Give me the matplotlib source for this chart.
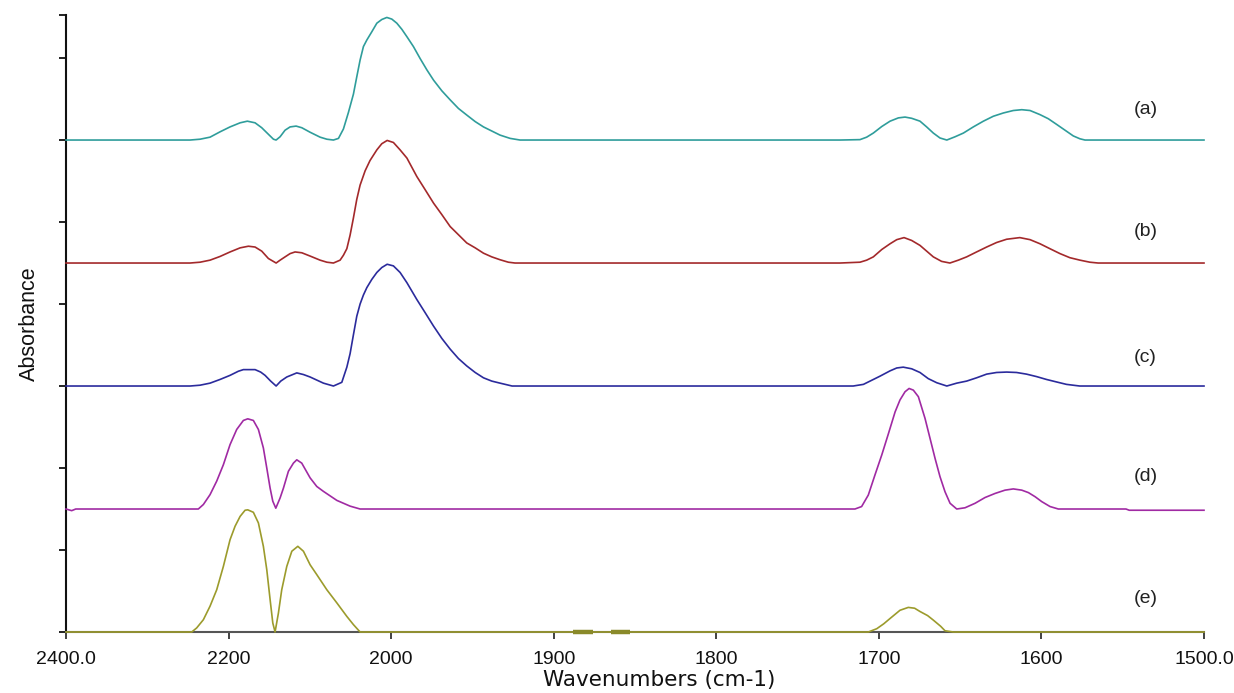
import numpy as np
import matplotlib
matplotlib.use("Agg")
import matplotlib.pyplot as plt

plt.rcParams['font.family'] = ['Liberation Sans', 'DejaVu Sans']

# ---------------- data (absorbance above each trace's own baseline) ----------------
WN_A = [2400, 2247.4, 2235.1, 2222.8, 2210.5, 2198.2, 2185.8, 2176.9, 2167.4, 2159.2,
        2151.0, 2144.8, 2141.5, 2136.6, 2130.5, 2124.3, 2116.9, 2109.9, 2099.7, 2087.4,
        2079.1, 2071.0, 2064.8, 2058.7, 2052.6, 2046.4, 2042.3, 2038.2, 2034.1, 2029.9,
        2023.8, 2017.6, 2011.5, 2005.3, 1999.6, 1996.5, 1993.4, 1990.3, 1986.3, 1982.2,
        1978.0, 1973.9, 1968.8, 1963.7, 1958.6, 1953.5, 1948.3, 1943.2, 1938.1, 1933.0,
        1926.8, 1920.7,
        1723.9, 1711.6, 1707.5, 1703.4, 1698.2, 1693.1, 1688.0, 1683.9, 1679.8, 1674.7,
        1670.6, 1666.5, 1662.4, 1658.2, 1653.1, 1648.0, 1641.9, 1635.7, 1629.6, 1623.4,
        1617.3, 1612.1, 1607.0, 1600.9, 1595.8, 1590.6, 1585.5, 1580.4, 1576.3, 1573.2,
        1500]
ABS_A = [0, 0, 0.002, 0.007, 0.020, 0.032, 0.042, 0.046, 0.042, 0.030,
         0.014, 0.002, 0, 0.008, 0.024, 0.032, 0.034, 0.030, 0.019, 0.007,
         0.002, 0, 0.004, 0.027, 0.067, 0.112, 0.154, 0.195, 0.228, 0.244,
         0.264, 0.285, 0.294, 0.299, 0.295, 0.285, 0.270, 0.252, 0.228, 0.199,
         0.171, 0.146, 0.120, 0.098, 0.077, 0.061, 0.045, 0.032, 0.022, 0.012,
         0.004, 0,
         0, 0.001, 0.007, 0.017, 0.033, 0.046, 0.054, 0.056, 0.053, 0.046,
         0.032, 0.017, 0.005, 0, 0.008, 0.017, 0.032, 0.046, 0.058, 0.066,
         0.072, 0.074, 0.072, 0.062, 0.052, 0.038, 0.024, 0.010, 0.003, 0,
         0]

WN_B = [2400, 2247.4, 2235.1, 2222.8, 2210.5, 2198.2, 2185.8, 2175.6, 2167.4, 2159.2,
        2151.0, 2141.5, 2136.6, 2130.5, 2124.3, 2118.2, 2109.9, 2099.7, 2087.4, 2079.1,
        2071.0, 2062.8, 2058.7, 2054.5, 2050.5, 2046.4, 2042.3, 2038.2, 2032.0, 2026.0,
        2017.6, 2011.5, 2004.9, 1998.6, 1994.5, 1990.3, 1984.2, 1979.1, 1973.9, 1968.8,
        1963.7, 1958.6, 1953.5, 1948.3, 1943.2, 1938.1, 1933.0, 1927.9, 1923.8,
        1723.9, 1711.6, 1707.5, 1703.4, 1698.2, 1693.1, 1689.0, 1684.5, 1679.8, 1674.7,
        1670.6, 1666.5, 1661.4, 1656.3, 1651.1, 1646.0, 1639.9, 1633.7, 1627.6, 1621.4,
        1613.3, 1607.0, 1600.9, 1594.8, 1588.6, 1582.5, 1576.3, 1570.2, 1565.1, 1500]
ABS_B = [0, 0, 0.002, 0.007, 0.016, 0.027, 0.037, 0.041, 0.039, 0.029,
         0.011, 0, 0.007, 0.015, 0.023, 0.027, 0.025, 0.017, 0.007, 0.002,
         0, 0.007, 0.019, 0.035, 0.068, 0.110, 0.155, 0.190, 0.225, 0.250,
         0.276, 0.291, 0.299, 0.294, 0.276, 0.256, 0.211, 0.179, 0.146, 0.118,
         0.089, 0.069, 0.049, 0.037, 0.024, 0.015, 0.008, 0.002, 0,
         0, 0.002, 0.007, 0.015, 0.033, 0.047, 0.057, 0.062, 0.055, 0.043,
         0.029, 0.015, 0.004, 0, 0.007, 0.015, 0.027, 0.039, 0.050, 0.058,
         0.062, 0.057, 0.047, 0.035, 0.023, 0.013, 0.007, 0.002, 0, 0]

WN_C = [2400, 2247.4, 2235.1, 2222.8, 2210.5, 2198.2, 2188.0, 2181.8, 2167.4, 2160.5,
        2155.1, 2148.2, 2141.5, 2135.8, 2128.4, 2116.1, 2107.9, 2099.7, 2083.3, 2071.0,
        2060.7, 2054.5, 2050.5, 2046.4, 2042.3, 2038.2, 2034.1, 2029.9, 2023.8, 2017.6,
        2011.5, 2004.9, 1998.6, 1994.5, 1990.3, 1984.2, 1979.1, 1973.9, 1968.8, 1963.7,
        1958.6, 1953.5, 1948.3, 1943.2, 1938.1, 1933.0, 1925.6,
        1723.9, 1715.8, 1709.5, 1704.4, 1699.3, 1693.1, 1689.0, 1685.0, 1679.8, 1674.7,
        1669.6, 1664.4, 1658.2, 1652.1, 1646.0, 1639.9, 1633.7, 1627.6, 1621.4, 1615.3,
        1609.2, 1603.0, 1596.9, 1590.8, 1584.6, 1578.5, 1576.4, 1500]
ABS_C = [0, 0, 0.002, 0.007, 0.016, 0.026, 0.036, 0.040, 0.040, 0.034,
         0.026, 0.012, 0, 0.012, 0.022, 0.032, 0.028, 0.022, 0.007, 0,
         0.009, 0.046, 0.079, 0.125, 0.170, 0.200, 0.222, 0.240, 0.260, 0.277,
         0.289, 0.297, 0.293, 0.277, 0.252, 0.211, 0.179, 0.146, 0.116, 0.090,
         0.067, 0.049, 0.033, 0.020, 0.012, 0.007, 0,
         0, 0, 0.004, 0.014, 0.024, 0.037, 0.044, 0.046, 0.042, 0.033,
         0.018, 0.008, 0, 0.007, 0.012, 0.020, 0.029, 0.033, 0.034, 0.033,
         0.029, 0.023, 0.016, 0.010, 0.004, 0.001, 0, 0]

WN_D = [2400, 2393, 2388, 2237.2, 2231.0, 2222.8, 2214.6, 2206.4, 2198.2, 2190.0,
        2181.8, 2176.4, 2169.5, 2163.3, 2157.2, 2153.0, 2148.9, 2145.6, 2141.9, 2136.6,
        2132.5, 2126.4, 2120.2, 2116.1, 2110.0, 2099.7, 2091.5, 2083.3, 2066.8, 2050.5,
        2038.2,
        1723.9, 1714.7, 1710.6, 1706.5, 1702.4, 1698.2, 1694.1, 1690.0, 1687.0, 1683.9,
        1681.4, 1678.8, 1675.7, 1671.6, 1668.5, 1665.4, 1662.4, 1659.3, 1656.2, 1652.1,
        1647.0, 1640.8, 1634.7, 1628.5, 1622.4, 1617.3, 1612.1, 1608.0, 1603.9, 1599.8,
        1594.7, 1589.6, 1548, 1546, 1500]
ABS_D = [0, -0.004, 0, 0, 0.011, 0.035, 0.068, 0.108, 0.157, 0.194,
         0.216, 0.220, 0.216, 0.194, 0.149, 0.100, 0.051, 0.019, 0.002, 0.027,
         0.051, 0.092, 0.112, 0.120, 0.112, 0.076, 0.055, 0.043, 0.021, 0.007,
         0,
         0, 0, 0.006, 0.034, 0.083, 0.132, 0.184, 0.237, 0.266, 0.286,
         0.294, 0.290, 0.274, 0.221, 0.172, 0.123, 0.079, 0.042, 0.014, 0,
         0.003, 0.014, 0.028, 0.038, 0.046, 0.049, 0.046, 0.040, 0.030, 0.018,
         0.006, 0, 0, -0.003, -0.003]

WN_E = [2400, 2245.3, 2239.2, 2231.0, 2222.8, 2214.6, 2206.4, 2198.2, 2192.0, 2185.8,
        2179.7, 2176.4, 2169.5, 2163.3, 2157.2, 2153.0, 2148.9, 2145.6, 2142.8, 2138.7,
        2134.6, 2128.4, 2122.2, 2114.8, 2107.9, 2099.7, 2091.5, 2079.1, 2066.8, 2054.5,
        2046.4, 2038.2,
        1706.5, 1701.3, 1697.0, 1693.1, 1687.0, 1681.9, 1678.0, 1674.7, 1670.0, 1666.5,
        1662.0, 1659.3, 1654.2, 1500]
ABS_E = [0, 0, 0.010, 0.030, 0.063, 0.103, 0.160, 0.225, 0.258, 0.282,
         0.297, 0.298, 0.292, 0.266, 0.209, 0.152, 0.079, 0.022, 0, 0.046,
         0.103, 0.160, 0.197, 0.209, 0.197, 0.164, 0.140, 0.103, 0.071, 0.038,
         0.018, 0,
         0, 0.008, 0.020, 0.033, 0.053, 0.060, 0.058, 0.050, 0.040, 0.029,
         0.014, 0.003, 0, 0]

# short thick artefact segments on trace (e)
E_ART_START = [1888, 1865]
E_ART_END = [1876, 1853]

TRACES = [(WN_A, ABS_A), (WN_B, ABS_B), (WN_C, ABS_C), (WN_D, ABS_D), (WN_E, ABS_E)]
OFFSETS = [1.2, 0.9, 0.6, 0.3, 0.0]
LABELS = ['(a)', '(b)', '(c)', '(d)', '(e)']
LABEL_Y = [1.275, 0.977, 0.670, 0.380, 0.082]
COLORS = ['#2f9d9b', '#a3292b', '#2b2b9c', '#a02aa3', '#9c9b2c']

X_TICKS = [2400, 2200, 2000, 1900, 1800, 1700, 1600, 1500]
X_TICKLABELS = ['2400.0', '2200', '2000', '1900', '1800', '1700', '1600', '1500.0']
Y_TICKS = [0, 0.2, 0.4, 0.6, 0.8, 1.0, 1.2, 1.4, 1.504]


# ---------------- axis with FTIR-style scale change at 2000 cm-1 ----------------
def fwd(x):
    x = np.asarray(x, dtype=float)
    return np.where(x <= 2000, x, 2000 + (x - 2000) / 2.0)


def inv(u):
    u = np.asarray(u, dtype=float)
    return np.where(u <= 2000, u, 2000 + (u - 2000) * 2.0)


fig = plt.figure(figsize=(12.34, 6.93), dpi=100)
ax = fig.add_axes([66 / 1234, 61 / 693, 1138 / 1234, 616.6 / 693])
ax.set_xscale('function', functions=(fwd, inv))

for (wn, ab), off, col in zip(TRACES, OFFSETS, COLORS):
    ax.plot(wn, np.asarray(ab) + off, color=col, lw=1.2, clip_on=False, zorder=3,
            solid_joinstyle='round')

for s, e in zip(E_ART_START, E_ART_END):
    ax.plot([s, e], [0, 0], color='#8a8a2a', lw=3.2, solid_capstyle='butt',
            clip_on=False, zorder=4)

for lab, ly in zip(LABELS, LABEL_Y):
    ax.text(1536, ly, lab, fontsize=14, ha='center', va='center', color='#222222')

ax.set_xlim(2400, 1500)
ax.set_ylim(0, 1.504)
ax.set_xticks(X_TICKS)
ax.set_xticklabels(X_TICKLABELS)
ax.xaxis.set_minor_locator(matplotlib.ticker.NullLocator())
ax.set_yticks(Y_TICKS)
ax.set_yticklabels([])

for side in ['top', 'right']:
    ax.spines[side].set_visible(False)
ax.spines['left'].set_linewidth(1.5)
ax.spines['left'].set_color('#111111')
ax.spines['bottom'].set_linewidth(1.5)
ax.spines['bottom'].set_color('#555555')
ax.tick_params(axis='x', direction='out', length=5, width=1.3, color='#333333',
               labelsize=14, pad=9, labelcolor='#111111')
ax.tick_params(axis='y', direction='out', length=5, width=1.3, color='#111111')

ax.set_xlabel('Wavenumbers (cm-1)', fontsize=15.5, color='#111111',
              family=['DejaVu Sans'])
ax.xaxis.set_label_coords(0.521, -0.062)
ax.set_ylabel('Absorbance', fontsize=15.5, labelpad=10, color='#111111')

fig.savefig('out.png', dpi=100, facecolor='white')
